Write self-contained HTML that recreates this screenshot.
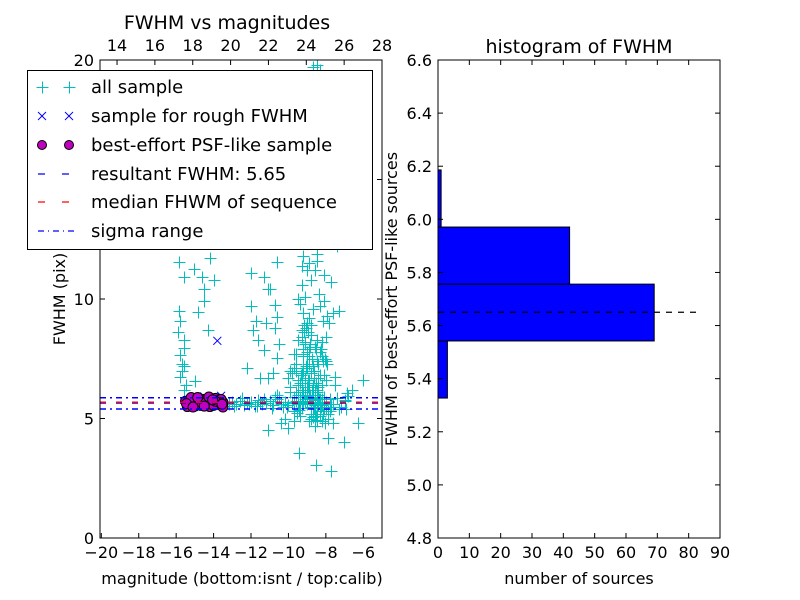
<!DOCTYPE html>
<html><head><meta charset="utf-8"><style>
html,body{margin:0;padding:0;background:#fff}
svg{display:block;font-family:"DejaVu Sans","Liberation Sans",sans-serif}
</style></head><body>
<svg id="c" width="800" height="600" xmlns="http://www.w3.org/2000/svg"></svg>
<script>
// ---- data ----
const allSampleMag = [-15.85,-15.05,-14.2,-15.6,-14.6,-14.0,-14.5,-14.5,-15.85,-14.85,-15.8,-15.9,-15.6,-14.3,-15.6,-15.8,-15.7,-15.6,-15.8,-15.0,-15.6,-15.7,-15.5,
 -12.0,-11.3,-11.1,-12.0,-11.75,-11.2,-11.9,-11.65,-10.7,-11.3,-12.2,-11.5,-11.1,-10.6,-10.5,-10.6,-10.7,-10.05,-11.1,-9.45,-8.55,-7.75,-7.9,-7.05,-6.3,-6.0,-7.6,-6.85,-7.5,-8.15,-8.45,-10.6,
 -9.2,-9.0,-9.3,-9.1,-8.9,-9.4,-9.2,-9.0,-8.8,-9.3,-9.5,-9.1,-8.9,-9.2,-8.7,-9.6,-9.0,-8.8,-9.3,-8.6,-9.7,-9.1,-8.9,-8.5,-9.4,-9.0,-8.7,-9.8,-9.2,-8.4,-8.8,-9.5,-9.0,-8.6,-8.3,-9.3,-9.9,-8.9,-8.5,-9.1,-8.2,-9.6,-8.7,-9.0,-8.4,-8.1,-9.4,-8.8,-10.0,-8.6,-9.2,-8.0,-8.3,-9.7,-8.9,-8.5,-10.2,-8.1,-9.1,-8.7,-7.9,-9.5,-8.4,-9.0,-8.2,-10.4,-8.6,-7.8,-9.3,-8.0,-8.8,-9.8,-8.3,-7.7,-8.9,-9.6,-8.5,-8.1,-10.6,-9.2,-7.6,-8.7,-9.9,-8.4,-8.0,-9.4,-7.5,-8.6,-9.0,-8.2,-7.9,-10.8,-9.7,-8.8,-7.4,-8.5,-9.3,-8.1,-7.7,-11.0,-9.5,-8.3,-7.3,-8.9,
 -9.15,-9.05,-8.95,-9.25,-9.1,-8.85,-9.0,-9.2,-8.75,-8.9,-9.05,-8.65,-8.8,-9.35,-8.95,-8.55,-8.7,-9.1,-8.6,-8.45,-8.85,-9.0,-8.5,-8.35,-8.75,-9.25,-8.4,-8.25,-8.65,-8.95,-8.3,-8.15,-8.55,-8.8,-9.45,-8.2,-8.05,-8.45,-8.7,-9.55,-8.1,-7.95,-8.35,-8.6,-9.15,-8.0,-7.85,-8.25,-8.5,-9.05,-8.9,-8.15,-8.4,-8.75,-9.35,-8.05,-8.3,-8.65,-9.2,-7.95,-8.2,-8.55,-8.85,-9.6,-9.7,-9.8,-9.5,-8.0,-7.9,-8.1,-8.3,-8.5,-8.7,-8.9,-9.1,-9.3,-9.45,-8.6,-8.4,-8.8,
 -8.6,-8.0,-9.3,-8.8,-9.0,-8.4,-8.2,-9.1,
 -13.2,-13.0,-12.8,-12.6,-12.4,-12.2,-12.0,-11.8,-11.6,-11.4,-11.2,-11.0,-10.8,-10.6,-10.4,-10.2,-10.0,-9.8,-9.6,-9.4,-9.2,-9.0,-8.8,-8.6,-8.4,-8.2,-8.0,-7.8,-7.6,-7.4,-7.2,-7.0,-12.9,-12.5,-12.1,-11.7,-11.3,-10.9,-10.5,-10.1,-9.7,-9.3,-8.9,-8.5,-8.1,-7.7,-7.3,-11.5,-10.7,-9.9,-9.1,-8.3,-10.3,-9.5,-8.7,-7.9,-6.8,-6.6,-7.0,-6.9,
 -10.3,-10.1,-9.9,-9.7,-10.5,-10.2,-9.8,-10.0,-9.6,-9.9,-10.4,-9.75];
const allSampleFwhm = [11.55,11.25,11.7,10.9,10.9,10.8,10.4,9.9,9.5,9.45,9.1,8.6,8.3,8.7,7.95,7.65,7.3,7.2,6.75,6.55,6.2,7.0,6.4,
 11.1,10.9,10.4,9.7,9.1,9.0,8.7,8.3,8.8,7.85,7.1,6.7,6.7,7.55,8.1,9.25,9.75,4.6,4.5,3.55,3.05,2.8,4.2,4.0,4.8,6.6,9.4,6.05,6.75,9.1,11.6,11.55,
 11.8,11.2,10.6,10.1,11.5,9.8,9.4,9.0,10.8,8.7,8.3,8.1,7.9,7.6,9.6,7.3,7.1,8.5,6.9,8.0,7.7,6.7,6.6,7.4,6.5,6.3,7.2,6.9,6.1,6.0,8.9,6.4,6.0,5.9,6.8,6.2,7.0,5.8,5.9,6.5,5.7,6.1,5.6,7.6,6.3,5.5,5.9,5.2,6.7,5.9,7.1,5.4,5.1,5.3,4.9,6.2,5.0,6.8,5.8,5.2,5.0,6.0,7.3,5.6,6.4,4.8,5.1,5.3,6.6,7.4,5.0,5.7,6.8,5.5,6.2,7.0,4.9,5.4,6.0,7.9,4.8,5.2,6.3,5.7,6.6,5.1,6.4,4.7,5.6,8.2,5.3,6.9,4.9,5.5,
 12.2,11.9,11.4,11.0,10.7,10.4,10.0,9.7,9.5,9.2,8.9,8.8,8.6,8.4,8.2,8.0,7.8,7.7,7.5,7.3,7.2,7.0,6.9,6.8,6.6,6.5,6.4,6.3,6.2,6.1,6.0,5.95,5.85,5.8,5.9,5.7,5.6,5.5,5.45,6.3,5.3,5.2,5.1,5.0,5.35,4.9,4.8,4.95,5.05,5.25,9.9,9.3,10.2,11.2,8.6,8.4,9.0,7.9,8.3,7.1,7.6,7.4,6.7,6.2,6.8,7.5,7.8,6.7,7.0,7.3,7.6,7.9,8.1,7.7,7.1,6.9,6.6,5.4,5.2,5.6,
 19.6,19.8,19.7,13.5,14.8,16.0,17.5,12.8,
 5.62,5.68,5.58,5.7,5.64,5.6,5.72,5.66,5.55,5.7,5.62,5.68,5.6,5.74,5.58,5.66,5.7,5.52,5.78,5.6,5.65,5.72,5.58,5.8,5.62,5.7,5.55,5.66,5.74,5.6,5.7,5.64,5.5,5.78,5.56,5.82,5.5,5.8,5.6,5.85,5.48,5.76,5.54,5.84,5.62,5.52,5.8,5.45,5.88,5.5,5.9,5.42,5.86,5.46,5.9,5.6,5.4,5.7,
 5.9,6.1,6.3,5.8,5.5,5.6,6.0,5.3,5.95,6.2,5.75,5.4];
const roughMag = [-13.8,-14.5,-13.6,-14.0];
const roughFwhm = [8.25,5.92,5.95,5.85];
const psfMag = [-15.5,-15.3,-15.1,-14.9,-14.7,-14.5,-14.3,-14.1,-13.9,-13.7,-13.5,-15.4,-15.0,-14.6,-14.2,-13.8,-13.6,-15.2,-14.8,-14.4,-14.0,-13.5,-15.45,-14.85,-14.25,-13.65,-15.1,-14.5,-13.9,-14.05,-13.55];
const psfFwhm = [5.72,5.6,5.78,5.65,5.55,5.8,5.7,5.62,5.84,5.58,5.68,5.5,5.52,5.75,5.5,5.75,5.8,5.88,5.62,5.68,5.55,5.48,5.62,5.88,5.9,5.66,5.48,5.52,5.72,5.78,5.6];
const resultFwhm = 5.65, medianFwhm = 5.64, sigmaLow = 5.40, sigmaHigh = 5.87;
const histEdges = [5.327,5.542,5.756,5.971,6.186];
const histCounts = [3,69,42,1];
const xTicks = [-20,-18,-16,-14,-12,-10,-8,-6];
const topTicks = [14,16,18,20,22,24,26,28];
const yTicks = [0,5,10,15,20];
const hyTicks = [4.8,5.0,5.2,5.4,5.6,5.8,6.0,6.2,6.4,6.6];
const hxTicks = [0,10,20,30,40,50,60,70,80,90];

// ---- scales ----
const L={x0:100,x1:382,y0:60,y1:538}, R={x0:438,x1:720,y0:60,y1:538};
const sx=m=>L.x0+(m+20.07)/(15.07)*(L.x1-L.x0);
const stx=m=>L.x0+(m-13.1)/(14.9)*(L.x1-L.x0);
const sy=f=>L.y1-f/20*(L.y1-L.y0);
const hx=n=>R.x0+n/90*(R.x1-R.x0);
const hy=v=>R.y1-(v-4.8)/1.8*(R.y1-R.y0);
const NS='http://www.w3.org/2000/svg', svg=document.getElementById('c');
function mk(t,a,p){const e=document.createElementNS(NS,t);for(const k in a)e.setAttribute(k,a[k]);(p||svg).appendChild(e);return e;}
function txt(s,x,y,sz,anc,p){const e=mk('text',{x:x,y:y,'font-size':sz,'text-anchor':anc||'middle',fill:'#000'},p);e.textContent=s;return e;}

const defs=mk('defs',{});const cp=mk('clipPath',{id:'lc'},defs);mk('rect',{x:L.x0,y:L.y0,width:L.x1-L.x0,height:L.y1-L.y0},cp);
const plot=mk('g',{'clip-path':'url(#lc)'});



function plus(x,y,c,p){x=Math.round(x)+0.5;y=Math.round(y)+0.5;const g=mk('g',{stroke:c,'stroke-width':1},p);mk('line',{x1:x-6,y1:y,x2:x+6,y2:y},g);mk('line',{x1:x,y1:y-6,x2:x,y2:y+6},g);return g;}
function cross(x,y,c,p){const g=mk('g',{stroke:c,'stroke-width':1},p);mk('line',{x1:x-4,y1:y-4,x2:x+4,y2:y+4},g);mk('line',{x1:x-4,y1:y+4,x2:x+4,y2:y-4},g);return g;}

for(let i=0;i<allSampleMag.length;i++){const g=plus(sx(allSampleMag[i]),sy(allSampleFwhm[i]),'#00bfbf',plot);

}
for(let i=0;i<roughMag.length;i++){const g=cross(sx(roughMag[i]),sy(roughFwhm[i]),'#0000ff',plot);

}
for(let i=0;i<psfMag.length;i++){const e=mk('circle',{cx:sx(psfMag[i]),cy:sy(psfFwhm[i]),r:5,fill:'#bf00bf',stroke:'#000','stroke-width':1},plot);

}
function hline(v,c,dash,off,name){const e=mk('line',{x1:L.x0,x2:L.x1,y1:sy(v),y2:sy(v),stroke:c,'stroke-width':1.5,'stroke-dasharray':dash,'stroke-dashoffset':off},plot);

}
hline(resultFwhm,'#0000ff','6,10',0,'resultant-fwhm-line');
hline(medianFwhm+0.04,'#ff0000','6,10',0,'median-fwhm-line');
hline(sigmaLow,'#0000ff','6,4,2,4',0,'sigma-low-line');
hline(sigmaHigh,'#0000ff','6,4,2,4',0,'sigma-high-line');

const lf=mk('rect',{x:L.x0,y:L.y0,width:L.x1-L.x0,height:L.y1-L.y0,fill:'none',stroke:'#000','stroke-width':1});


xTicks.forEach(t=>{const x=sx(t);mk('line',{x1:x,x2:x,y1:L.y1,y2:L.y1-5,stroke:'#000'});
const e=txt((t<0?'\u2212':'')+Math.abs(t),x,L.y1+20,16);

});
topTicks.forEach(t=>{const x=stx(t);mk('line',{x1:x,x2:x,y1:L.y0,y2:L.y0+5,stroke:'#000'});
const e=txt(String(t),x,L.y0-9,16);

});
yTicks.forEach(t=>{const y=sy(t);mk('line',{x1:L.x0,x2:L.x0+5,y1:y,y2:y,stroke:'#000'});mk('line',{x1:L.x1,x2:L.x1-5,y1:y,y2:y,stroke:'#000'});
const e=txt(String(t),L.x0-6,y+6,16,'end');

});
let e;
e=txt('FWHM vs magnitudes',227,29,19);
e=txt('magnitude (bottom:isnt / top:calib)',242,584,16);
e=txt('FWHM (pix)',0,0,16);e.setAttribute('transform','translate(65,299) rotate(-90)');

const lg=mk('g',{});


mk('rect',{x:27.5,y:70.5,width:345,height:179,fill:'#fff',stroke:'#000','stroke-width':1},lg);
const ly=[87,116,145,174,202,231];
const labels=['all sample','sample for rough FWHM','best-effort PSF-like sample','resultant FWHM: 5.65','median FHWM of sequence','sigma range'];
plus(42,ly[0],'#00bfbf',lg);plus(69,ly[0],'#00bfbf',lg);
cross(42,ly[1],'#0000ff',lg);cross(69,ly[1],'#0000ff',lg);
mk('circle',{cx:42,cy:ly[2],r:4.5,fill:'#bf00bf',stroke:'#000'},lg);mk('circle',{cx:69,cy:ly[2],r:4.5,fill:'#bf00bf',stroke:'#000'},lg);
mk('line',{x1:38,x2:76,y1:ly[3],y2:ly[3],stroke:'#0000ff','stroke-width':1.2,'stroke-dasharray':'7,17'},lg);
mk('line',{x1:38,x2:76,y1:ly[4],y2:ly[4],stroke:'#ff0000','stroke-width':1.2,'stroke-dasharray':'7,17'},lg);
mk('line',{x1:38,x2:76,y1:ly[5],y2:ly[5],stroke:'#0000ff','stroke-width':1.2,'stroke-dasharray':'6,4,1,4'},lg);
labels.forEach((s,i)=>{const t=txt(s,91,ly[i]+6,18,'start',lg);

});

for(let i=0;i<histCounts.length;i++){const y1=hy(histEdges[i]),y2=hy(histEdges[i+1]);
const r=mk('rect',{x:R.x0,y:y2,width:hx(histCounts[i])-R.x0,height:y1-y2,fill:'#0000ff',stroke:'#000','stroke-width':1});

}
e=mk('line',{x1:R.x0,x2:hx(83),y1:hy(resultFwhm),y2:hy(resultFwhm),stroke:'#000','stroke-width':1.2,'stroke-dasharray':'6,6'});

e=mk('rect',{x:R.x0,y:R.y0,width:R.x1-R.x0,height:R.y1-R.y0,fill:'none',stroke:'#000','stroke-width':1});

hxTicks.forEach(t=>{const x=hx(t);mk('line',{x1:x,x2:x,y1:R.y1,y2:R.y1-5,stroke:'#000'});mk('line',{x1:x,x2:x,y1:R.y0,y2:R.y0+5,stroke:'#000'});
const l=txt(String(t),x,R.y1+20,16);

});
hyTicks.forEach(t=>{const y=hy(t);mk('line',{x1:R.x0,x2:R.x0+5,y1:y,y2:y,stroke:'#000'});mk('line',{x1:R.x1,x2:R.x1-5,y1:y,y2:y,stroke:'#000'});
const l=txt(t.toFixed(1),R.x0-6,y+6,16,'end');

});
e=txt('histogram of FWHM',579,53,19);
e=txt('number of sources',579,584,16);
e=txt('FWHM of best-effort PSF-like sources',0,0,16);e.setAttribute('transform','translate(397,299) rotate(-90)');
</script>
</body></html>
